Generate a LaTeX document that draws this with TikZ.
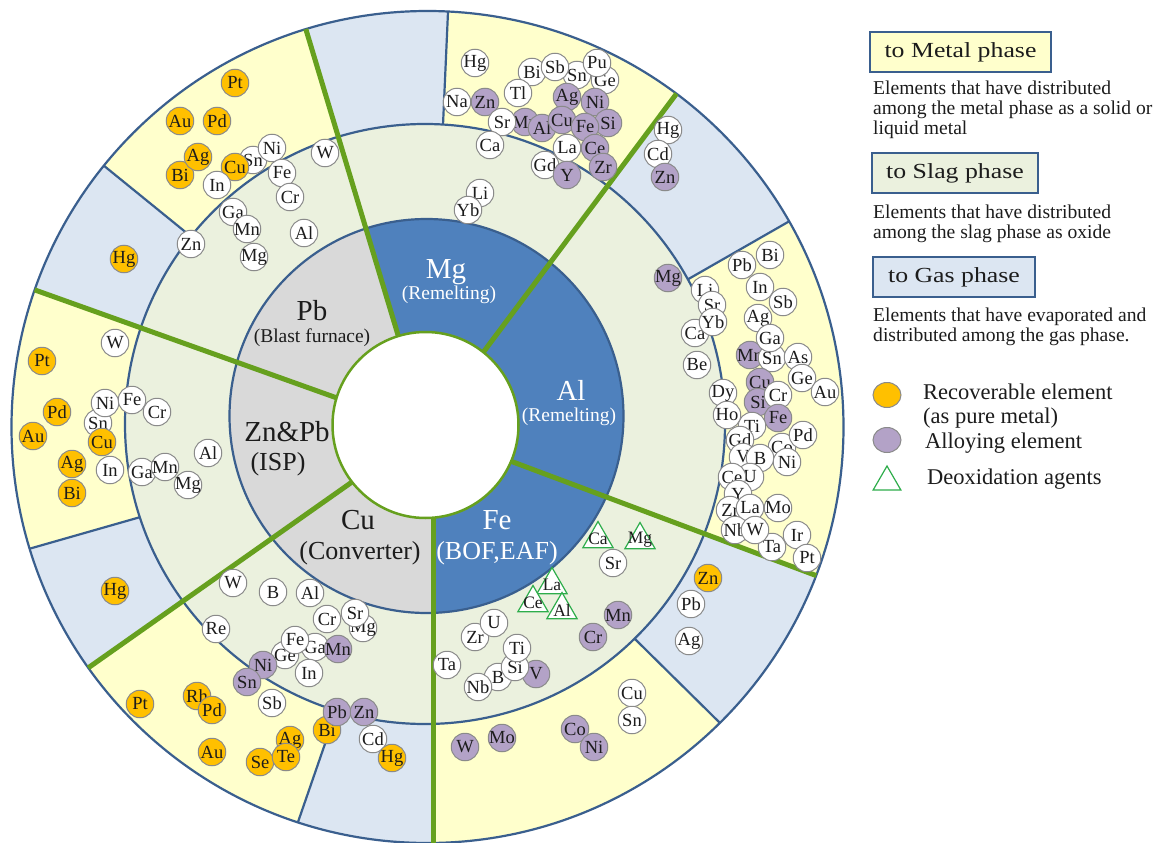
\documentclass[tikz,border=0pt]{standalone}
\usepackage{fontspec}
\setmainfont{Liberation Serif}
\newfontfamily\boxfont[FakeStretch=1.2]{Liberation Serif}
\usetikzlibrary{calc,shapes.geometric}
\definecolor{metalY}{HTML}{FFFFCC}
\definecolor{gasB}{HTML}{DCE6F2}
\definecolor{slagG}{HTML}{EBF1DE}
\definecolor{furnB}{HTML}{4F81BD}
\definecolor{furnG}{HTML}{D9D9D9}
\definecolor{ringL}{HTML}{3A5F8E}
\definecolor{sectG}{HTML}{66A01E}
\definecolor{cM}{HTML}{FFC000}
\definecolor{cA}{HTML}{B3A2C7}
\colorlet{cW}{white}
\definecolor{elB}{HTML}{8A8A8A}
\definecolor{deoxG}{HTML}{2EAD4B}
\definecolor{txtD}{HTML}{1C1C1C}

\begin{document}
\begin{tikzpicture}[x=1pt,y=-1pt,
  elem/.style={circle, draw=elB, line width=1pt, fill=#1, minimum size=27.5pt,
    inner sep=-5pt, font=\fontsize{18.5}{18.5}\selectfont, text=txtD},
  deox/.style={regular polygon, regular polygon sides=3, draw=deoxG, line width=1.2pt,
    fill=white, minimum size=35pt, inner sep=0pt},
  tlab/.style={font=\fontsize{17.5}{17.5}\selectfont, text=txtD, inner sep=0pt},
  ring/.style={draw=ringL, line width=2.2pt},
  sect/.style={draw=sectG, line width=5pt},
  ttl/.style={font=\fontsize{29}{29}\selectfont, inner sep=0pt},
  sub/.style={font=\fontsize{19.5}{19.5}\selectfont, inner sep=0pt},
  subL/.style={font=\fontsize{26}{26}\selectfont, inner sep=0pt},
  lbox/.style={draw=ringL, line width=2.2pt, inner sep=0pt, minimum height=40pt,
    font=\boxfont\fontsize{21.5}{21.5}\selectfont, text=txtD},
  ldesc/.style={anchor=base west, inner sep=0pt, font=\fontsize{19.6}{20}\selectfont, text=txtD},
  lkey/.style={anchor=base west, inner sep=0pt, font=\fontsize{22.5}{22.5}\selectfont, text=txtD}
]
\useasboundingbox (0,0) rectangle (1162,843);
\fill[white] (0,0) rectangle (1162,843);

% centres of the rings
\coordinate (oc) at (427.5,427);
\coordinate (mc) at (425,424);
\coordinate (dc) at (426.5,416);
\coordinate (wc) at (425.5,425);

% thick sector dividers (inner end, outer end)
\coordinate (g1i) at (398,335); \coordinate (g1o) at (307,33);
\coordinate (g2i) at (485,350); \coordinate (g2o) at (674,97);
\coordinate (g3i) at (513,462); \coordinate (g3o) at (820,577);
\coordinate (g4i) at (433,518); \coordinate (g4o) at (433,843);
\coordinate (g5i) at (352,482); \coordinate (g5o) at (88,668);
\coordinate (g6i) at (337,398); \coordinate (g6o) at (35,290);

% thin metal/gas dividers in the outer ring
\coordinate (t1i) at (183,230); \coordinate (t1o) at (103,165);
\coordinate (t2i) at (443,125); \coordinate (t2o) at (448,12);
\coordinate (t3i) at (692,277); \coordinate (t3o) at (788,222);
\coordinate (t4i) at (638,642); \coordinate (t4o) at (720,723);
\coordinate (t5i) at (336,712); \coordinate (t5o) at (298,822);
\coordinate (t6i) at (137,518); \coordinate (t6o) at (32,548);

% outer ring: metal phase (yellow) with gas phase wedges (blue)
\fill[metalY] (oc) circle[radius=416pt];
\begin{scope}
  \clip (oc) circle[radius=416pt];
  \fill[gasB] (t1i) -- ($(t1i)!1.5!(t1o)$) -- ($(g6i)!1.5!(g6o)$) -- (g6i) -- cycle;
  \fill[gasB] (g1i) -- ($(g1i)!1.5!(g1o)$) -- ($(t2i)!1.5!(t2o)$) -- (t2i) -- cycle;
  \fill[gasB] (g2i) -- ($(g2i)!1.5!(g2o)$) -- ($(t3i)!1.5!(t3o)$) -- (t3i) -- cycle;
  \fill[gasB] (g3i) -- ($(g3i)!1.5!(g3o)$) -- ($(t4i)!1.5!(t4o)$) -- (t4i) -- cycle;
  \fill[gasB] (t5i) -- ($(t5i)!1.5!(t5o)$) -- ($(g4i)!1.5!(g4o)$) -- (g4i) -- cycle;
  \fill[gasB] (g5i) -- ($(g5i)!1.5!(g5o)$) -- ($(t6i)!1.5!(t6o)$) -- (t6i) -- cycle;
  \foreach \k in {1,...,6}
    \draw[ring] ($(t\k i)!-0.1!(t\k o)$) -- ($(t\k i)!1.2!(t\k o)$);
\end{scope}

% slag ring
\filldraw[fill=slagG, ring] (mc) circle[radius=300pt];

% furnace ring
\fill[furnG] (dc) circle[radius=197pt];
\begin{scope}
  \clip (dc) circle[radius=197pt];
  \fill[furnB] (g1i) -- (g1o) -- (900,33) -- (900,843) -- (g4o) -- (g4i) -- cycle;
\end{scope}
\draw[ring] (dc) circle[radius=197pt];
\draw[ring] (oc) circle[radius=416pt];

% sector dividers
\begin{scope}
  \clip (oc) circle[radius=416pt];
  \foreach \k in {1,...,6}
    \draw[sect] ($(g\k i)!-0.2!(g\k o)$) -- ($(g\k i)!1.2!(g\k o)$);
\end{scope}

% hub
\filldraw[fill=white, draw=sectG, line width=2.5pt] (wc) circle[radius=93pt];

% furnace names
\node[ttl, text=txtD] (pbT) at (312,311) {Pb};
\node[sub, text=txtD] (pbS) at (312,338) {(Blast furnace)};
\node[ttl, text=white] (mgT) at (446,272) {Mg};
\node[sub, text=white] (mgS) at (449,295) {(Remelting)};
\node[ttl, text=white] (alT) at (571,390) {Al};
\node[sub, text=white] (alS) at (569,417) {(Remelting)};
\node[ttl, text=white] (feT) at (497,520) {Fe};
\node[subL, text=white] (feS) at (497,553) {(BOF,EAF)};
\node[ttl, text=txtD] (cuT) at (358,520) {Cu};
\node[subL, text=txtD] (cuS) at (360,553) {(Converter)};
\node[ttl, text=txtD] (zpT) at (287,432) {Zn\&Pb};
\node[subL, text=txtD] (zpS) at (278,464) {(ISP)};

% Pb blast furnace
\foreach \fc/\px/\py/\nm [count=\i] in {
  cM/235/83/Pt, cM/180/121/Au, cM/217/121/Pd, cW/253/160/Sn, cM/180/175/Bi,
  cM/198/157/Ag, cM/235/167/Cu, cW/272/148/Ni, cW/217/185/In, cW/282/173/Fe,
  cW/290/197/Cr, cW/325/153/W, cW/233/212/Ga, cW/247/229/Mn, cW/304/233/Al,
  cW/254/257/Mg, cW/191/244/Zn, cM/124/259/Hg}
  \node[elem=\fc] (pb\i) at (\px,\py) {\nm};

% Zn&Pb ISP
\foreach \fc/\px/\py/\nm [count=\i] in {
  cW/115/343/W, cM/42/361/Pt, cM/57/412/Pd, cM/33/436/Au, cW/98/423/Sn,
  cW/105/403/Ni, cW/132/400/Fe, cW/157/412/Cr, cM/102/442/Cu, cM/72/464/Ag,
  cM/72/493/Bi, cW/110/470/In, cW/142/472/Ga, cW/165/467/Mn, cW/188/485/Mg,
  cW/208/453/Al, cM/115/591/Hg}
  \node[elem=\fc] (zp\i) at (\px,\py) {\nm};

% Cu converter
\foreach \fc/\px/\py/\nm [count=\i] in {
  cW/233/583/W, cW/273/592/B, cW/310/593/Al, cW/363/628/Mg, cW/355/613/Sr,
  cW/327/619/Cr, cW/216/629/Re, cW/285/655/Ge, cW/315/647/Ga, cW/295/640/Fe,
  cA/338/649/Mn, cA/263/665/Ni, cA/247/682/Sn, cW/309/673/In, cW/272/703/Sb,
  cM/327/730/Bi, cA/337/712/Pb, cA/364/712/Zn, cW/373/739/Cd, cM/392/758/Hg,
  cM/140/704/Pt, cM/197/696/Rh, cM/212/710/Pd, cM/212/752/Au, cM/260/762/Se,
  cM/290/740/Ag, cM/286/757/Te}
  \node[elem=\fc] (cu\i) at (\px,\py) {\nm};

% Fe BOF/EAF
\foreach \fc/\px/\py/\nm [count=\i] in {
  cW/613/563/Sr, cA/593/637/Cr, cA/618/615/Mn, cW/475/637/Zr, cW/494/623/U,
  cW/447/665/Ta, cW/498/677/B, cW/478/687/Nb, cA/536/674/V, cW/515/667/Si,
  cW/517/648/Ti, cA/465/747/W, cA/502/738/Mo, cA/575/729/Co, cA/594/747/Ni,
  cW/632/693/Cu, cW/632/720/Sn, cM/708/578/Zn, cW/691/604/Pb, cW/689/641/Ag}
  \node[elem=\fc] (fe\i) at (\px,\py) {\nm};
\foreach \px/\py/\nm [count=\i] in {598/539/Ca, 640/540/Mg, 552/585/La, 533/603/Ce, 562/610/Al}
  \node[deox, label={[tlab]center:\nm}] (fd\i) at (\px,\py) {};

% Al remelting
\foreach \fc/\px/\py/\nm [count=\i] in {
  cA/668/278/Mg, cW/695/333/Ca, cW/697/365/Be, cW/705/290/Li, cW/712/305/Sr,
  cW/713/322/Yb, cW/742/265/Pb, cW/770/255/Bi, cW/760/287/In, cW/783/302/Sb,
  cW/758/318/Ag, cA/750/355/Mn, cW/772/358/Sn, cW/770/338/Ga, cW/798/357/As,
  cW/802/378/Ge, cW/825/392/Au, cA/760/382/Cu, cA/758/402/Si, cW/778/395/Cr,
  cA/778/418/Fe, cW/723/393/Dy, cW/752/426/Ti, cW/727/415/Ho, cW/740/440/Gd,
  cW/782/447/Co, cW/743/457/V, cW/760/458/B, cW/787/462/Ni, cW/803/435/Pd,
  cW/750/477/U, cW/732/477/Ce, cW/738/494/Y, cW/730/510/Zr, cW/750/508/La,
  cW/778/508/Mo, cW/735/530/Nb, cW/772/547/Ta, cW/755/530/W, cW/797/535/Ir,
  cW/807/558/Pt, cW/668/130/Hg, cW/658/154/Cd, cA/665/177/Zn}
  \node[elem=\fc] (al\i) at (\px,\py) {\nm};

% Mg remelting
\foreach \fc/\px/\py/\nm [count=\i] in {
  cW/475/63/Hg, cW/605/80/Ge, cW/577/75/Sn, cW/532/72/Bi, cW/555/67/Sb,
  cW/597/63/Pu, cW/457/102/Na, cA/485/102/Zn, cW/518/93/Tl, cA/567/97/Ag,
  cA/595/102/Ni, cA/525/122/Mn, cA/542/128/Al, cA/562/120/Cu, cA/608/123/Si,
  cA/585/127/Fe, cW/502/122/Sr, cW/490/145/Ca, cW/545/165/Gd, cW/567/148/La,
  cA/567/175/Y, cA/595/148/Ce, cA/603/167/Zr, cW/480/193/Li, cW/468/210/Yb}
  \node[elem=\fc] (mg\i) at (\px,\py) {\nm};

% legend
\node[lbox, fill=metalY, minimum width=181pt] (lbM) at (960.5,52) {to Metal phase};
\node[ldesc] (ldM1) at (873,94) {Elements that have distributed};
\node[ldesc] (ldM2) at (873,114) {among the metal phase as a solid or};
\node[ldesc] (ldM3) at (873,134) {liquid metal};
\node[lbox, fill=slagG, minimum width=166pt] (lbS) at (955,173) {to Slag phase};
\node[ldesc] (ldS1) at (873,218) {Elements that have distributed};
\node[ldesc] (ldS2) at (873,238) {among the slag phase as oxide};
\node[lbox, fill=gasB, minimum width=162pt] (lbG) at (954,277) {to Gas phase};
\node[ldesc] (ldG1) at (873,321) {Elements that have evaporated and};
\node[ldesc] (ldG2) at (873,341) {distributed among the gas phase.};

\node[ellipse, draw=elB, line width=1pt, fill=cM, minimum width=28pt, minimum height=25pt, inner sep=0pt] (lkM) at (887,395) {};
\node[lkey] (ltM1) at (923,399) {Recoverable element};
\node[lkey] (ltM2) at (923,423) {(as pure metal)};
\node[ellipse, draw=elB, line width=1pt, fill=cA, minimum width=28pt, minimum height=25pt, inner sep=0pt] (lkA) at (887,440) {};
\node[lkey] (ltA) at (925,448) {Alloying element};
\node[deox, minimum size=32pt] (lkD) at (887,482) {};
\node[lkey] (ltD) at (927,484) {Deoxidation agents};
\end{tikzpicture}
\end{document}
